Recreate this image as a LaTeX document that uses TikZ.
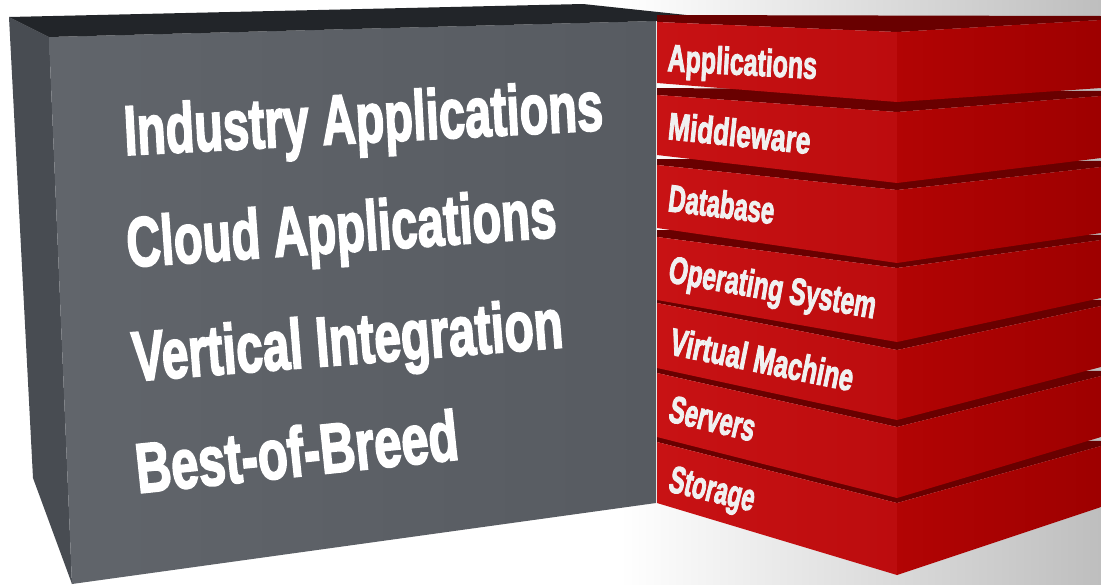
\documentclass[tikz,border=0pt]{standalone}
\usepackage{fontspec}
\setmainfont{Liberation Sans}[BoldFeatures={FakeBold=3}]
\usepackage{graphicx}
\definecolor{bgr}{RGB}{190,190,190}
\definecolor{gleft}{RGB}{72,76,82}
\definecolor{gfrontL}{RGB}{97,101,107}
\definecolor{gfrontR}{RGB}{87,91,97}
\definecolor{gtop}{RGB}{34,37,41}
\definecolor{rtop}{RGB}{105,0,0}
\definecolor{rfrontL}{RGB}{200,18,20}
\definecolor{rfrontR}{RGB}{188,12,14}
\definecolor{rsideL}{RGB}{178,4,4}
\definecolor{rsideR}{RGB}{158,0,0}
\newcommand\redslab[8]{%
  \fill[rtop] (657,#7) -- (1101,#8) -- (1101,#5) -- (897,#3) -- (657,#1) -- cycle;
  \shade[left color=rfrontL,right color=rfrontR] (657,#1) -- (897,#3) -- (897,#4) -- (657,#2) -- cycle;
  \shade[left color=rsideL,right color=rsideR] (897,#3) -- (1101,#5) -- (1101,#6) -- (897,#4) -- cycle;
}
\newcommand\biglab[6]{%
  \node[biglabel,rotate=#4] (#1) at (#2,#3) {\scalebox{#5}[1]{#6}};
}
\newcommand\redlab[6]{%
  \node[redlabel,rotate=#4] (#1) at (#2,#3) {\scalebox{#5}[1]{#6}};
}
\begin{document}
\begin{tikzpicture}[x=1pt,y=-1pt,
  biglabel/.style={inner sep=0pt,anchor=base west,text=white,font=\fontsize{70}{70}\selectfont\bfseries},
  redlabel/.style={inner sep=0pt,anchor=base west,text=white!94!black,font=\fontsize{38}{38}\selectfont\bfseries}]
\useasboundingbox (0,0) rectangle (1101,584);
\fill[white] (0,0) rectangle (1101,584);
\shade[left color=white,right color=bgr] (620,0) rectangle (1101,584);
% grey box
\fill[gleft] (9,17) -- (49,37) -- (72,584) -- (33,478) -- cycle;
\shade[left color=gfrontL,right color=gfrontR] (49,37) -- (656,21) -- (656,503) -- (72,584) -- cycle;
\fill[gtop] (9,17) -- (583,4) -- (705,17) -- (656,21) -- (49,37) -- cycle;
% red stack, bottom to top
\redslab{442}{503}{503}{575}{446}{507}{437}{441}
\redslab{373}{437}{427}{498}{376}{437}{367}{371}
\redslab{303}{368}{350}{420}{306}{367}{298}{300}
\redslab{237}{300}{268}{342}{240}{298}{230}{235}
\redslab{165}{228}{190}{263}{167}{233}{159}{161}
\redslab{95}{155}{112}{183}{96}{158}{88}{91}
\redslab{22}{83}{32}{102}{20}{88}{15}{16}
% grey box texts
\biglab{ind}{125}{155}{3}{0.67}{Industry Applications}
\biglab{cld}{128}{267}{4}{0.675}{Cloud Applications}
\biglab{ver}{134}{381}{4.5}{0.685}{Vertical Integration}
\biglab{bob}{138}{493}{6}{0.70}{Best-of-Breed}
% red labels
\redlab{app}{667}{71}{-3}{0.655}{Applications}
\redlab{mid}{667}{139}{-6}{0.69}{Middleware}
\redlab{dbs}{667}{211}{-7}{0.63}{Database}
\redlab{ops}{667}{282}{-10}{0.645}{Operating System}
\redlab{vm}{668}{354}{-11.5}{0.665}{Virtual Machine}
\redlab{srv}{667}{421}{-13.5}{0.625}{Servers}
\redlab{sto}{667}{491}{-13.5}{0.615}{Storage}
\end{tikzpicture}
\end{document}
